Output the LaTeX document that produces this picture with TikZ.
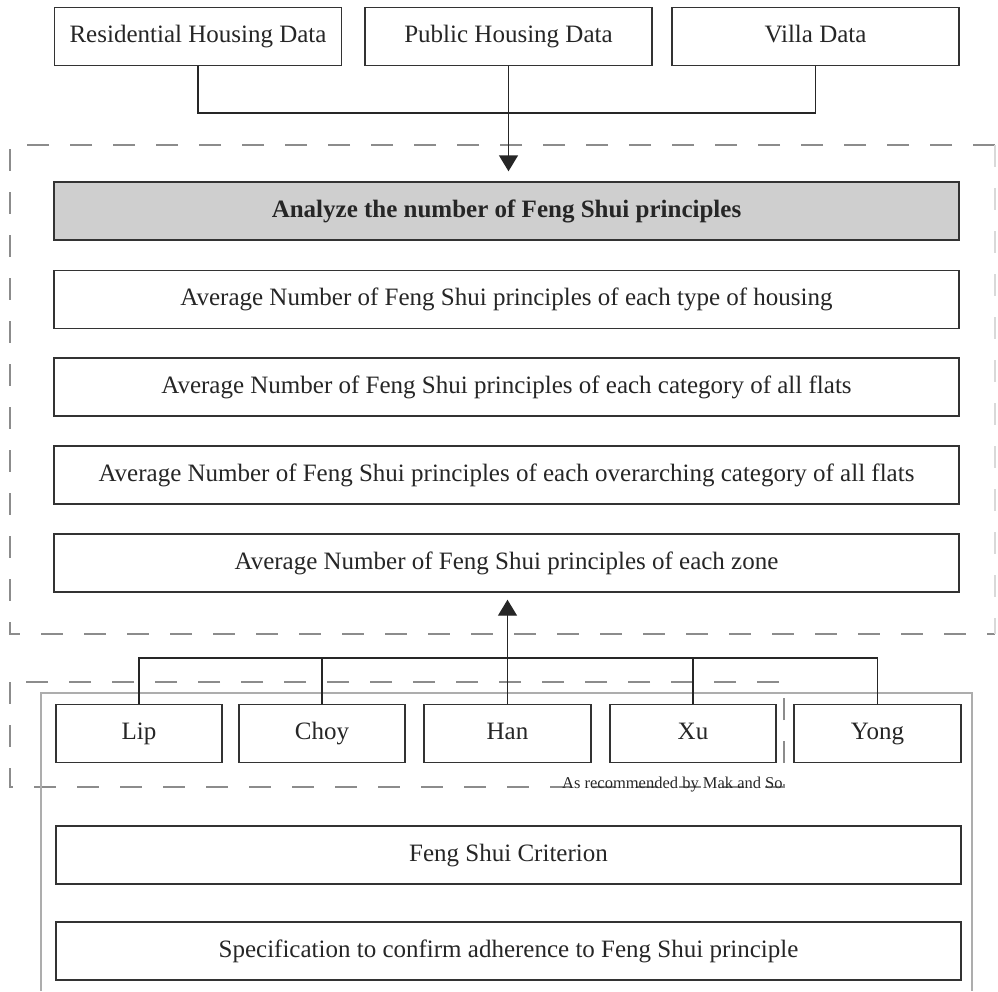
\documentclass[tikz,border=0pt]{standalone}
\usepackage{fontspec}
\setmainfont{Liberation Serif}
\usetikzlibrary{arrows.meta}
\begin{document}
\begin{tikzpicture}[x=1pt,y=-1pt,
  box/.style={draw=black!80, line width=1.4pt, fill=white, inner sep=0pt,
    minimum height=58pt, font=\fontsize{25}{30}\selectfont, text=black!85,
    text height=17pt, text depth=5pt},
  widebox/.style={box, minimum width=905pt},
  smallbox/.style={box, minimum width=166pt},
  databox/.style={box, minimum width=287pt},
  frame/.style={draw=black!45, line width=1.5pt, dash pattern=on 22pt off 21pt},
  link/.style={draw=black!85, line width=1.4pt},
  arr/.style={link, -{Triangle[width=19pt,length=16pt]}}
]
\useasboundingbox (0,0) rectangle (998,991);

% dashed grouping frames and the grey outline of the criteria panel
\draw[frame] (995,145) -- (10,145) -- (10,634) -- (995,634);
\draw[frame, draw=black!15] (995,145) -- (995,634);
\draw[frame] (10,682) rectangle (784,787);
\draw[draw=black!32, line width=1.3pt] (41,991) -- (41,693) -- (972,693) -- (972,991);

% data sources
\node[databox] (res) at (198,36.5) {Residential Housing Data};
\node[databox] (pub) at (508.5,36.5) {Public Housing Data};
\node[databox] (villa) at (815.5,36.5) {Villa Data};

% analysis steps
\node[widebox, fill=black!19, font=\fontsize{25}{30}\selectfont\bfseries] (head) at (506.5,211) {Analyze the number of Feng Shui principles};
\node[widebox] (avgtype) at (506.5,299.5) {Average Number of Feng Shui principles of each type of housing};
\node[widebox] (avgcat) at (506.5,387) {Average Number of Feng Shui principles of each category of all flats};
\node[widebox] (avgover) at (506.5,475) {Average Number of Feng Shui principles of each overarching category of all flats};
\node[widebox] (avgzone) at (506.5,563) {Average Number of Feng Shui principles of each zone};

% authors
\node[smallbox] (lip) at (139,733.5) {Lip};
\node[smallbox] (choy) at (322,733.5) {Choy};
\node[smallbox, minimum width=167pt] (han) at (507.5,733.5) {Han};
\node[smallbox] (xu) at (693,733.5) {Xu};
\node[smallbox, minimum width=167pt] (yong) at (877.5,733.5) {Yong};
\node[anchor=base west, inner sep=0pt, font=\fontsize{16.5}{20}\selectfont, text=black!85] (note) at (562,788) {As recommended by Mak and So};

% criteria
\node[widebox] (crit) at (508.5,855) {Feng Shui Criterion};
\node[widebox] (spec) at (508.5,951) {Specification to confirm adherence to Feng Shui principle};

% connectors
\coordinate (topjoin) at (508.5,113);
\draw[link] (res.south) |- (topjoin) -| (villa.south);
\draw[arr, shorten >=10pt] (pub.south) -- (pub.south |- head.north);

\coordinate (botjoin) at (507.5,658);
\draw[link] (lip.north) |- (botjoin) -| (yong.north);
\draw[link] (choy.north) -- (choy.north |- botjoin);
\draw[link] (xu.north) -- (xu.north |- botjoin);
\draw[arr, shorten >=7pt] (han.north) -- (han.north |- avgzone.south);
\end{tikzpicture}
\end{document}
